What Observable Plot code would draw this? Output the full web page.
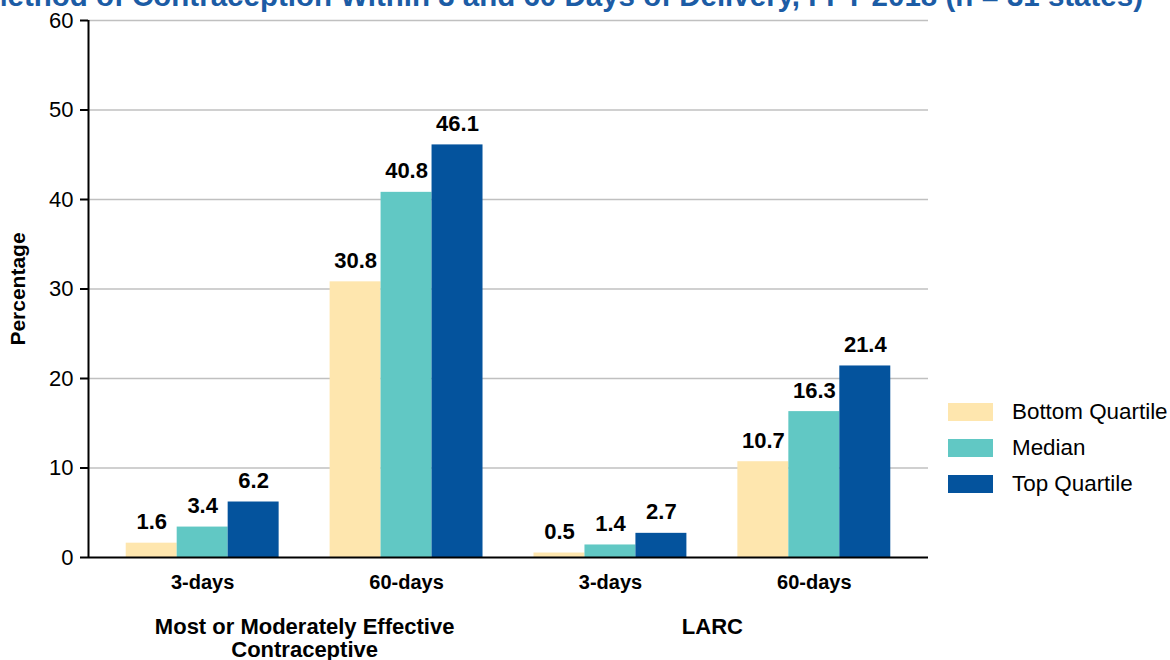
<!DOCTYPE html>
<html><head><meta charset="utf-8">
<script src="https://cdn.jsdelivr.net/npm/d3@7"></script>
<script src="https://cdn.jsdelivr.net/npm/@observablehq/plot@0.6"></script>
<style>
body{margin:0;background:#fff;font-family:"Liberation Sans",Arial,sans-serif;}
#wrap{position:relative;width:1170px;height:660px;overflow:hidden;background:#fff;}
#title{position:absolute;right:27px;top:-19px;font-size:29.5px;line-height:1;font-weight:bold;color:#1c5ca5;white-space:nowrap;z-index:2;}
#legend{position:absolute;left:948px;top:394px;}
.row{display:flex;align-items:center;height:36px;font-size:22.4px;color:#000;}
.sw{width:45px;height:18px;margin-right:19px;}
</style></head>
<body>
<div id="wrap">
  <div id="title"></div>
  <div id="chart"></div>
  <div id="legend"></div>
</div>
<script>
const titleText = "Method of Contraception Within 3 and 60 Days of Delivery, FFY 2018 (n = 31 states)";
const groups = ["3-days", "60-days", "3-days", "60-days"];
const categories = ["Most or Moderately Effective\nContraceptive", "LARC"];
const series = ["Bottom Quartile", "Median", "Top Quartile"];
const bottomQuartile = [1.6, 30.8, 0.5, 10.7];
const median = [3.4, 40.8, 1.4, 16.3];
const topQuartile = [6.2, 46.1, 2.7, 21.4];
const yTicks = [0, 10, 20, 30, 40, 50, 60];
const colors = ["#fee6ae", "#61c8c4", "#04539d"];

const seriesValues = [bottomQuartile, median, topQuartile];
const rows = [];
seriesValues.forEach((vals, s) => vals.forEach((v, g) => rows.push({g, s, series: series[s], value: v})));

const barW = 0.25;            // bar width in units of group step
const xDomain = [-0.56, 3.56];

document.getElementById("title").textContent = titleText;

const chart = Plot.plot({
  width: 1170,
  height: 660,
  marginLeft: 88,
  marginRight: 242,
  marginTop: 20,
  marginBottom: 103,
  style: {fontFamily: "'Liberation Sans', Arial, sans-serif", background: "transparent", overflow: "visible"},
  x: {domain: xDomain, axis: null},
  y: {domain: [0, 60], label: null},
  color: {domain: series, range: colors},
  marks: [
    Plot.ruleY(yTicks.filter(d => d > 0), {stroke: "#c0c0c0", strokeWidth: 1.5}),
    Plot.rectY(rows, {
      x1: d => d.g + (d.s - 1.5) * barW,
      x2: d => d.g + (d.s - 0.5) * barW,
      y1: 0, y2: "value", fill: "series"
    }),
    Plot.ruleY([0], {stroke: "#000", strokeWidth: 2}),
    Plot.ruleX([xDomain[0]], {stroke: "#000", strokeWidth: 2}),
    Plot.axisY({ticks: yTicks, tickSize: 8, tickPadding: 7, fontSize: 22, strokeWidth: 2, label: null}),
    Plot.text(rows, {
      x: d => d.g + (d.s - 1) * barW, y: "value",
      text: d => d.value.toFixed(1), lineAnchor: "bottom", dy: -14,
      fontSize: 22, fontWeight: "bold", fill: "#000"
    }),
    Plot.text(groups, {x: (d, i) => i, frameAnchor: "bottom", lineAnchor: "top", dy: 17, fontSize: 20, fontWeight: "bold", fill: "#000"}),
    Plot.text(categories, {x: (d, i) => i * 2 + 0.5, frameAnchor: "bottom", lineAnchor: "top", dy: 60, lineHeight: 1.05, fontSize: 22, fontWeight: "bold", fill: "#000"}),
    Plot.text(["Percentage"], {frameAnchor: "left", textAnchor: "middle", rotate: -90, dx: -70, fontSize: 21, fontWeight: "bold", fill: "#000"})
  ]
});
document.getElementById("chart").appendChild(chart);

const legend = document.getElementById("legend");
series.forEach((s, i) => {
  const row = document.createElement("div");
  row.className = "row";
  const sw = document.createElement("div");
  sw.className = "sw";
  sw.style.background = colors[i];
  const t = document.createElement("span");
  t.textContent = s;
  row.appendChild(sw); row.appendChild(t);
  legend.appendChild(row);
});
</script>
</body></html>
